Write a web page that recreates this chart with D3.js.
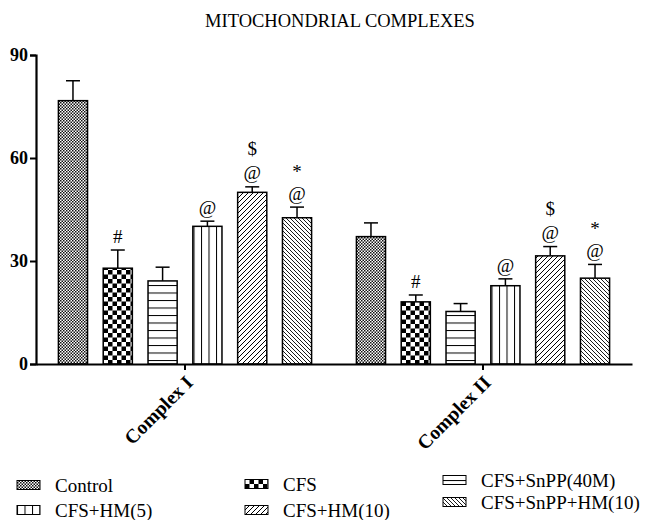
<!DOCTYPE html>
<html>
<head>
<meta charset="utf-8">
<script src="https://cdn.jsdelivr.net/npm/d3@7"></script>
<style>
  body { margin: 0; background: #fff; }
  svg { font-family: "Liberation Serif", "Times New Roman", serif; }
</style>
</head>
<body>
<div id="chart"></div>
<script>
// chart data
const groups = ["Complex I", "Complex II"];
const series = ["Control", "CFS", "CFS+SnPP(40M)", "CFS+HM(5)", "CFS+HM(10)", "CFS+SnPP+HM(10)"];
const complexI = [76.7, 27.9, 24.2, 40.1, 50.0, 42.6];
const complexIErr = [5.8, 5.3, 4.0, 1.5, 1.6, 3.1];
const complexII = [37.1, 18.1, 15.3, 22.8, 31.5, 25.0];
const complexIIErr = [4.0, 2.0, 2.3, 2.0, 2.7, 4.0];
const complexIMarks = [[], ["#"], [], ["@"], ["@", "$"], ["@", "*"]];
const complexIIMarks = [[], ["#"], [], ["@"], ["@", "$"], ["@", "*"]];
const yTicks = [0, 30, 60, 90];

const width = 646, height = 520;

const svg = d3.select('#chart').append('svg')
    .attr('width', width)
    .attr('height', height);

// fill patterns, one per series
const defs = svg.append('defs');

function addPattern(id, w, h, draw) {
    const p = defs.append('pattern')
        .attr('id', id)
        .attr('patternUnits', 'userSpaceOnUse')
        .attr('width', w)
        .attr('height', h);
    p.append('rect').attr('width', w).attr('height', h).attr('fill', '#fff');
    draw(p);
}

// fine checker (Control)
addPattern('pat0', 3, 3, p => {
    p.append('rect').attr('width', 1.5).attr('height', 1.5).attr('fill', '#111');
    p.append('rect').attr('x', 1.5).attr('y', 1.5).attr('width', 1.5).attr('height', 1.5).attr('fill', '#111');
});
// coarse checker (CFS)
addPattern('pat1', 9, 9, p => {
    p.append('rect').attr('width', 4.5).attr('height', 4.5).attr('fill', '#000');
    p.append('rect').attr('x', 4.5).attr('y', 4.5).attr('width', 4.5).attr('height', 4.5).attr('fill', '#000');
});
// horizontal lines
addPattern('pat2', 8, 7.5, p => {
    p.append('line').attr('x1', 0).attr('x2', 8).attr('y1', 0.5).attr('y2', 0.5)
        .attr('stroke', '#000').attr('stroke-width', 1);
});
// vertical lines
addPattern('pat3', 7.5, 8, p => {
    p.append('line').attr('x1', 0.5).attr('x2', 0.5).attr('y1', 0).attr('y2', 8)
        .attr('stroke', '#000').attr('stroke-width', 1);
});
// forward diagonal
addPattern('pat4', 5, 5, p => {
    p.append('path').attr('d', 'M-1,6 L6,-1 M-1,1 L1,-1 M4,6 L6,4')
        .attr('stroke', '#000').attr('stroke-width', 1);
});
// back diagonal
addPattern('pat5', 4, 4, p => {
    p.append('path').attr('d', 'M-1,-1 L5,5 M3,-1 L5,1 M-1,3 L1,5')
        .attr('stroke', '#000').attr('stroke-width', 0.9);
});

const fills = series.map((s, i) => `url(#pat${i})`);

// scales
const x0 = d3.scaleBand().domain(groups).range([36, 632]);
const x1 = d3.scaleBand().domain(series).range([0, x0.bandwidth()])
    .paddingInner(0.35).paddingOuter(0.5);
const y = d3.scaleLinear().domain([0, 90]).range([364, 55]);

// title
svg.append('text')
    .attr('x', 340)
    .attr('y', 27)
    .attr('text-anchor', 'middle')
    .attr('font-size', 18.5)
    .text('MITOCHONDRIAL COMPLEXES');

const rows = groups.map((g, gi) => series.map((s, si) => ({
    group: g,
    series: s,
    idx: si,
    value: gi === 0 ? complexI[si] : complexII[si],
    err: gi === 0 ? complexIErr[si] : complexIIErr[si],
    marks: gi === 0 ? complexIMarks[si] : complexIIMarks[si]
})));

const groupSel = svg.selectAll('g.group')
    .data(rows)
    .enter()
    .append('g')
    .attr('class', 'group')
    .attr('transform', (d, i) => `translate(${x0(groups[i])},0)`);

const bar = groupSel.selectAll('g.bar')
    .data(d => d)
    .enter()
    .append('g')
    .attr('class', 'bar');

// error bars (upper only)
bar.append('line')
    .attr('x1', d => x1(d.series) + x1.bandwidth() / 2)
    .attr('x2', d => x1(d.series) + x1.bandwidth() / 2)
    .attr('y1', d => y(d.value))
    .attr('y2', d => y(d.value + d.err))
    .attr('stroke', '#000')
    .attr('stroke-width', 1.5);
bar.append('line')
    .attr('x1', d => x1(d.series) + x1.bandwidth() / 2 - 7)
    .attr('x2', d => x1(d.series) + x1.bandwidth() / 2 + 7)
    .attr('y1', d => y(d.value + d.err))
    .attr('y2', d => y(d.value + d.err))
    .attr('stroke', '#000')
    .attr('stroke-width', 1.5);

bar.append('rect')
    .attr('x', d => x1(d.series))
    .attr('y', d => y(d.value))
    .attr('width', x1.bandwidth())
    .attr('height', d => y(0) - y(d.value))
    .attr('fill', d => fills[d.idx])
    .attr('stroke', '#000')
    .attr('stroke-width', 1.5);

// significance symbols stacked above the error bar
bar.each(function (d) {
    const cx = x1(d.series) + x1.bandwidth() / 2;
    const top = y(d.value + d.err);
    let cy = top - 14;
    d.marks.forEach((m, k) => {
        if (k > 0) cy -= (m === '$' ? 24 : 22);
        d3.select(this).append('text')
            .attr('x', cx)
            .attr('y', cy)
            .attr('dy', '0.35em')
            .attr('text-anchor', 'middle')
            .attr('font-size', 19)
            .text(m);
    });
});

// axes
const yAxis = svg.append('g')
    .attr('transform', 'translate(36,0)')
    .call(d3.axisLeft(y).tickValues(yTicks).tickSize(6).tickPadding(2));
yAxis.select('.domain').attr('stroke-width', 2.2);
yAxis.selectAll('.tick line').attr('stroke-width', 2);
yAxis.selectAll('text')
    .attr('font-family', '"Liberation Serif", serif')
    .attr('font-size', 18)
    .attr('font-weight', 'bold')
    .attr('fill', '#000');

const xAxis = svg.append('g')
    .attr('transform', `translate(0,${y(0)})`)
    .call(d3.axisBottom(x0).tickSize(6).tickSizeOuter(0));
xAxis.select('.domain').attr('stroke-width', 2.2);
xAxis.selectAll('.tick line').attr('stroke-width', 2);
xAxis.selectAll('text')
    .attr('font-family', '"Liberation Serif", serif')
    .attr('font-size', 19.5)
    .attr('font-weight', 'bold')
    .attr('fill', '#000')
    .attr('text-anchor', 'end')
    .attr('dy', null)
    .attr('y', 0)
    .attr('transform', 'translate(9,20) rotate(-45)');

// legend, three columns of two rows
const legendPos = [
    [17, 485], [245, 484], [443, 480],
    [17, 510], [245, 510], [443, 502]
];
const legendOrder = [0, 1, 2, 3, 4, 5];

const legend = svg.selectAll('g.legend')
    .data(legendOrder)
    .enter()
    .append('g')
    .attr('class', 'legend')
    .attr('transform', (d, i) => `translate(${legendPos[i][0]},${legendPos[i][1]})`);

legend.append('rect')
    .attr('x', 0)
    .attr('y', -4.5)
    .attr('width', 23)
    .attr('height', 9)
    .attr('fill', d => fills[d])
    .attr('stroke', '#000')
    .attr('stroke-width', 1);

legend.append('text')
    .attr('x', 38)
    .attr('y', 0)
    .attr('dy', '0.35em')
    .attr('font-size', 19)
    .text(d => series[d])
    .each(function (d, i) {
        // squeeze a label that would run past the right edge
        const room = width - 4 - (legendPos[i][0] + 38);
        if (this.getComputedTextLength() > room) {
            d3.select(this)
                .attr('textLength', room)
                .attr('lengthAdjust', 'spacingAndGlyphs');
        }
    });
</script>
</body>
</html>
